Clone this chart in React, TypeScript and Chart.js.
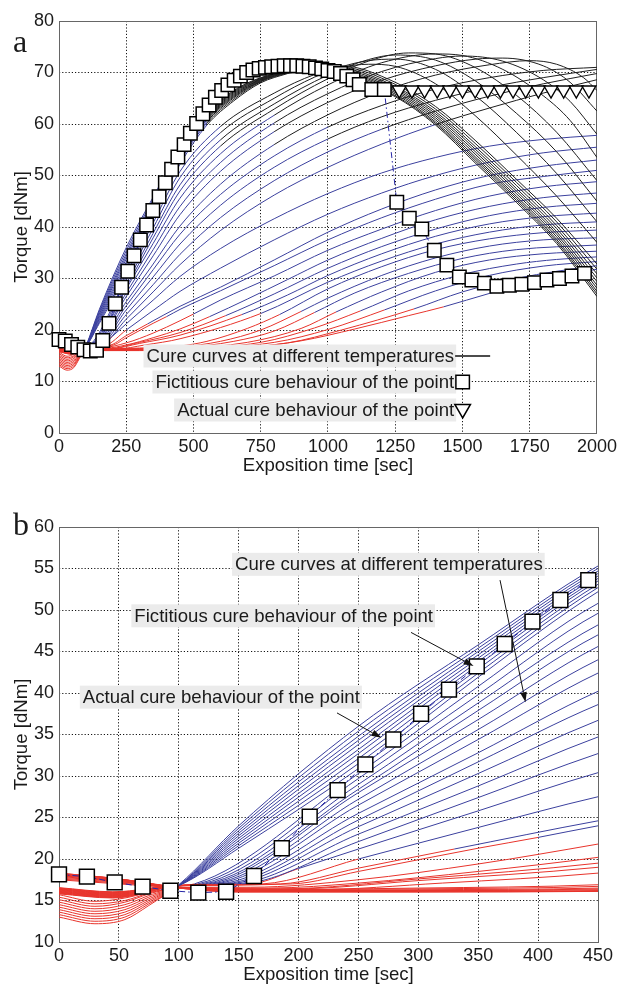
import React, { useEffect, useRef } from 'react';
import { Chart, registerables } from 'chart.js';

Chart.register(...registerables);

type Pt = [number, number];

// Cure curves (exposition time [s], torque [dNm]), hottest first.
const hotCurves: Pt[][] = [
  [[0, 13.0], [30, 12.2], [55, 12.7], [75, 14.4], [100, 16.9], [150, 24.0], [250, 36.0], [350, 45.8], [450, 55.3], [550, 62.0], [650, 66.5], [750, 69.0], [850, 70.2], [950, 70.4], [1050, 69.5], [1250, 65.3], [1400, 59.8], [1550, 52.3], [1700, 44.8], [1850, 36.8], [2000, 26.5]],
  [[0, 13.3], [30, 12.5], [55, 13.0], [75, 14.6], [100, 16.8], [150, 23.7], [250, 35.4], [350, 45.4], [450, 55.0], [550, 61.8], [650, 66.3], [750, 68.9], [850, 70.2], [950, 70.5], [1050, 69.7], [1250, 65.5], [1400, 60.1], [1550, 52.7], [1700, 45.2], [1850, 37.2], [2000, 27.0]],
  [[0, 13.6], [30, 12.8], [55, 13.3], [75, 14.8], [100, 16.8], [150, 23.4], [250, 34.8], [350, 45.0], [450, 54.7], [550, 61.6], [650, 66.1], [750, 68.8], [850, 70.2], [950, 70.6], [1050, 69.9], [1250, 65.8], [1400, 60.4], [1550, 53.1], [1700, 45.6], [1850, 37.6], [2000, 27.5]],
  [[0, 13.9], [30, 13.1], [55, 13.6], [75, 15.0], [100, 16.8], [150, 23.1], [250, 34.3], [350, 44.6], [450, 54.4], [550, 61.4], [650, 65.9], [750, 68.7], [850, 70.2], [950, 70.7], [1050, 70.1], [1250, 66.1], [1400, 60.8], [1550, 53.5], [1700, 46.0], [1850, 38.1], [2000, 28.1]],
  [[0, 14.2], [30, 13.4], [55, 13.9], [75, 15.2], [100, 16.8], [150, 22.8], [250, 33.8], [350, 44.2], [450, 54.1], [550, 61.2], [650, 65.7], [750, 68.6], [850, 70.1], [950, 70.8], [1050, 70.3], [1250, 66.4], [1400, 61.2], [1550, 54.0], [1700, 46.5], [1850, 38.6], [2000, 28.7]],
  [[0, 14.5], [30, 13.7], [55, 14.2], [75, 15.4], [100, 16.8], [150, 22.5], [250, 33.2], [350, 43.8], [450, 53.8], [550, 61.0], [650, 65.5], [750, 68.5], [850, 70.1], [950, 70.9], [1050, 70.5], [1250, 66.7], [1400, 61.6], [1550, 54.5], [1700, 47.0], [1850, 39.1], [2000, 29.4]],
  [[0, 14.8], [30, 14.0], [55, 14.5], [75, 15.6], [100, 16.8], [150, 22.2], [250, 32.7], [350, 43.4], [450, 53.5], [550, 60.8], [650, 65.3], [750, 68.4], [850, 70.0], [950, 71.0], [1050, 70.7], [1250, 67.0], [1400, 62.0], [1550, 55.0], [1700, 47.5], [1850, 39.7], [2000, 30.1]],
  [[0, 15.1], [30, 14.3], [55, 14.8], [75, 15.8], [100, 16.8], [150, 21.9], [250, 32.1], [350, 42.9], [450, 53.1], [550, 60.5], [650, 65.1], [750, 68.3], [850, 70.0], [950, 71.1], [1050, 70.9], [1250, 67.3], [1400, 62.4], [1550, 55.5], [1700, 48.1], [1850, 40.3], [2000, 30.9]],
  [[0, 15.4], [30, 14.6], [55, 15.0], [75, 15.9], [100, 16.8], [150, 21.6], [250, 31.5], [350, 42.4], [450, 52.7], [550, 60.2], [650, 64.8], [750, 68.2], [850, 69.9], [950, 71.2], [1050, 71.1], [1250, 67.7], [1400, 62.9], [1550, 56.1], [1700, 48.7], [1850, 41.0], [2000, 31.8]],
  [[0, 15.7], [30, 14.9], [55, 15.3], [75, 16.0], [100, 16.8], [150, 21.3], [250, 30.9], [350, 41.9], [450, 52.2], [550, 59.8], [650, 64.5], [750, 68.0], [850, 69.8], [950, 71.3], [1050, 71.3], [1250, 68.1], [1400, 63.4], [1550, 56.7], [1700, 49.3], [1850, 41.7], [2000, 32.8]],
];
const hotScorch = [100, 100, 100, 100, 100, 100, 100, 100, 100, 100];

const midCurves: Pt[][] = [
  [[0, 15.8], [45, 15.3], [100, 16.8], [113, 17.0], [250, 30.3], [350, 40.8], [450, 50.8], [600, 59.5], [800, 66.0], [950, 69.6], [1050, 71.0], [1150, 71.6], [1250, 71.2], [1400, 67.8], [1550, 61.5], [1700, 54.0], [1850, 46.0], [2000, 37.0]],
  [[0, 15.85], [45, 15.35], [100, 16.8], [116, 17.0], [250, 29.7], [350, 39.8], [450, 49.6], [600, 58.3], [800, 65.0], [950, 69.1], [1050, 71.1], [1150, 72.3], [1250, 72.6], [1400, 70.6], [1550, 65.4], [1700, 58.4], [1850, 50.4], [2000, 41.0]],
  [[0, 15.9], [45, 15.4], [100, 16.8], [119, 17.0], [250, 29.0], [350, 38.8], [450, 48.2], [600, 56.9], [800, 63.9], [1000, 69.5], [1150, 72.5], [1250, 73.4], [1400, 72.4], [1550, 68.3], [1700, 62.1], [1850, 54.6], [2000, 45.0]],
  [[0, 15.95], [45, 15.45], [100, 16.8], [122, 17.0], [250, 28.4], [350, 37.9], [450, 47.0], [600, 55.7], [800, 62.9], [1000, 68.8], [1150, 72.2], [1300, 73.8], [1400, 73.6], [1550, 70.9], [1700, 65.6], [1850, 58.4], [2000, 49.0]],
  [[0, 16.0], [45, 15.5], [100, 16.8], [125, 17.0], [250, 28.0], [350, 36.8], [450, 45.6], [600, 54.2], [800, 61.7], [1000, 67.6], [1200, 71.9], [1400, 73.6], [1500, 73.3], [1650, 70.6], [1800, 65.5], [1900, 60.7], [2000, 53.5]],
  [[0, 16.05], [45, 15.55], [100, 16.8], [128, 17.0], [250, 27.2], [350, 35.6], [450, 44.0], [600, 52.5], [800, 60.2], [1000, 65.9], [1200, 70.2], [1400, 72.7], [1500, 73.2], [1650, 72.2], [1800, 68.6], [1900, 64.4], [2000, 58.0]],
  [[0, 16.1], [45, 15.6], [100, 16.8], [131, 17.0], [250, 26.5], [350, 34.4], [450, 42.4], [600, 50.8], [800, 58.5], [1000, 64.2], [1200, 68.5], [1400, 71.3], [1550, 72.6], [1650, 72.8], [1800, 71.3], [1900, 68.1], [2000, 62.5]],
  [[0, 16.15], [45, 15.65], [100, 16.8], [135, 17.0], [250, 25.5], [350, 32.8], [450, 40.2], [600, 48.3], [800, 56.0], [1000, 61.8], [1200, 66.3], [1400, 69.5], [1600, 71.5], [1750, 72.3], [1850, 71.6], [1950, 69.0], [2000, 66.5]],
  [[0, 16.2], [45, 15.7], [100, 16.8], [139, 17.0], [250, 24.7], [350, 31.7], [450, 38.6], [600, 46.3], [800, 53.8], [1000, 59.4], [1200, 63.6], [1400, 66.8], [1600, 69.0], [1800, 70.4], [2000, 71.0]],
  [[0, 16.25], [45, 15.75], [100, 16.8], [143, 17.0], [250, 23.9], [350, 30.3], [450, 36.7], [600, 44.2], [800, 51.6], [1000, 57.1], [1200, 61.4], [1400, 64.6], [1600, 67.1], [1800, 69.0], [2000, 70.6]],
  [[0, 16.3], [45, 15.8], [100, 16.8], [148, 17.0], [250, 23.0], [350, 28.8], [450, 34.7], [600, 41.8], [800, 49.0], [1000, 54.6], [1200, 59.0], [1400, 62.5], [1600, 65.4], [1800, 67.8], [2000, 69.8]],
  [[0, 16.35], [45, 15.85], [100, 16.8], [153, 17.0], [250, 22.1], [350, 27.4], [450, 32.7], [600, 39.3], [800, 46.2], [1000, 51.6], [1200, 56.1], [1400, 59.9], [1600, 63.1], [1800, 66.0], [2000, 68.6]],
  [[0, 16.4], [45, 15.9], [100, 16.8], [160, 17.0], [200, 18.85], [250, 21.2], [350, 25.8], [450, 30.4], [600, 35.8], [800, 41.6], [1000, 46.5], [1200, 50.5], [1400, 53.5], [1600, 55.7], [1800, 57.0], [2000, 57.8]],
  [[0, 16.45], [45, 15.95], [100, 16.8], [170, 17.0], [250, 20.0], [350, 23.8], [450, 27.5], [600, 32.0], [800, 37.5], [1000, 42.5], [1200, 46.6], [1400, 50.0], [1600, 52.6], [1800, 54.4], [2000, 55.5]],
  [[0, 16.5], [45, 16.0], [100, 16.8], [185, 17.0], [250, 18.9], [330, 21.2], [450, 24.6], [600, 28.3], [800, 33.6], [1000, 39.0], [1200, 43.5], [1400, 47.2], [1600, 50.0], [1800, 51.8], [2000, 53.0]],
  [[0, 16.55], [45, 16.05], [100, 16.8], [195, 17.0], [250, 18.5], [350, 21.3], [400, 22.6], [450, 24.0], [600, 27.6], [800, 32.5], [1000, 37.5], [1200, 41.8], [1400, 45.4], [1600, 48.3], [1800, 49.8], [2000, 51.0]],
];
const midScorch = [113, 116, 119, 122, 125, 128, 131, 135, 139, 143, 148, 153, 200, 250, 330, 400];

const slowCurves: Pt[][] = [
  [[0, 17.5], [50, 17.0], [100, 16.6], [160, 16.6], [250, 17.5], [350, 19.4], [450, 21.8], [500, 23.1], [600, 25.8], [800, 30.5], [1000, 35.5], [1200, 39.6], [1400, 43.2], [1600, 46.0], [1800, 47.8], [2000, 48.8]],
  [[0, 17.6], [50, 17.1], [100, 16.6], [175, 16.5], [250, 17.1], [350, 18.5], [450, 20.2], [560, 22.6], [700, 26.0], [850, 29.8], [1000, 33.6], [1200, 37.8], [1400, 41.4], [1600, 44.0], [1800, 45.7], [2000, 46.6]],
  [[0, 17.7], [50, 17.2], [100, 16.6], [185, 16.4], [300, 17.6], [450, 19.5], [620, 22.8], [800, 27.0], [1000, 32.0], [1200, 36.2], [1400, 39.6], [1600, 42.2], [1800, 43.8], [2000, 44.6]],
  [[0, 17.8], [50, 17.3], [100, 16.6], [195, 16.4], [300, 17.4], [450, 19.0], [680, 23.0], [850, 26.8], [1000, 30.6], [1200, 34.8], [1400, 38.2], [1600, 40.6], [1800, 42.0], [2000, 42.7]],
  [[0, 17.9], [50, 17.3], [100, 16.5], [210, 16.3], [320, 17.1], [450, 18.3], [750, 23.2], [1000, 29.3], [1200, 33.4], [1400, 36.7], [1600, 39.0], [1800, 40.4], [2000, 41.0]],
];
const slowScorch = [500, 560, 620, 680, 750];

const coldCurves: Pt[][] = [
  [[0, 18.0], [50, 17.4], [100, 16.6], [150, 16.3], [300, 16.5], [450, 16.9], [550, 17.8], [700, 20.3], [820, 23.0], [1000, 28.0], [1200, 32.3], [1400, 35.6], [1600, 37.7], [1800, 38.9], [2000, 39.4]],
  [[0, 18.0], [50, 17.4], [100, 16.6], [150, 16.3], [300, 16.4], [450, 16.7], [600, 17.8], [750, 20.0], [900, 23.6], [1000, 26.2], [1200, 30.6], [1400, 34.0], [1600, 36.3], [1800, 37.5], [2000, 37.9]],
  [[0, 18.1], [50, 17.5], [100, 16.6], [150, 16.2], [300, 16.3], [450, 16.5], [650, 17.8], [800, 19.8], [950, 23.4], [1100, 27.2], [1300, 31.0], [1500, 33.9], [1700, 35.6], [2000, 36.5]],
  [[0, 18.1], [50, 17.5], [100, 16.6], [150, 16.2], [300, 16.2], [450, 16.4], [700, 17.6], [900, 20.3], [1030, 23.5], [1200, 27.4], [1400, 31.2], [1600, 33.6], [1800, 34.8], [2000, 35.3]],
  [[0, 18.2], [50, 17.6], [100, 16.6], [150, 16.2], [300, 16.2], [450, 16.3], [750, 17.6], [950, 20.4], [1120, 23.7], [1300, 27.6], [1500, 30.8], [1700, 32.8], [1850, 33.7], [2000, 34.2]],
  [[0, 18.2], [50, 17.6], [100, 16.5], [150, 16.1], [300, 16.1], [450, 16.2], [800, 17.6], [1000, 20.1], [1210, 23.9], [1400, 27.6], [1600, 30.6], [1800, 32.4], [2000, 33.3]],
  [[0, 18.3], [50, 17.6], [100, 16.5], [150, 16.1], [300, 16.1], [450, 16.1], [850, 17.5], [1050, 20.0], [1320, 24.1], [1500, 27.4], [1700, 30.0], [1850, 31.4], [2000, 32.5]],
  [[0, 18.3], [50, 17.6], [100, 16.5], [150, 16.0], [300, 16.0], [450, 16.1], [700, 16.6], [900, 17.9], [1100, 20.2], [1300, 22.8], [1430, 24.5], [1600, 27.1], [1800, 29.8], [2000, 31.8]],
];
const coldScorch = [820, 900, 950, 1030, 1120, 1210, 1320, 1430];

// Fictitious cure behaviour of the point (squares)
const squareTime = [
  0, 23.3, 46.5, 69.8, 93, 116.3, 139.5, 162.8, 186, 209.3, 232.6, 255.8, 279.1, 302.3, 325.6, 348.8, 372.1, 395.3, 418.6, 441.9,
  465.1, 488.4, 511.6, 534.9, 558.1, 581.4, 604.7, 627.9, 651.2, 674.4, 697.7, 720.9, 744.2, 767.4, 790.7, 814, 837.2, 860.5,
  883.7, 907, 930.2, 953.5, 976.7, 1000, 1023.3, 1046.5, 1069.8, 1093, 1116.3, 1162.8, 1209.3,
  1255.8, 1302.3, 1348.8, 1395.3, 1441.9, 1488.4, 1534.9, 1581.4, 1627.9, 1674.4, 1720.9, 1767.4, 1814, 1860.5, 1907, 1953.5,
];
const squareTorque = [
  18.15, 17.87, 17.19, 16.67, 16.18, 15.94, 16.06, 17.95, 21.29, 25.1, 28.3, 31.4, 34.4, 37.5, 40.4, 43.2, 45.9, 48.6, 51.2, 53.6,
  56.0, 58.2, 60.1, 62.0, 63.7, 65.2, 66.5, 67.6, 68.5, 69.3, 70.0, 70.5, 70.8, 71.0, 71.1, 71.2, 71.3, 71.3,
  71.3, 71.2, 71.1, 70.9, 70.7, 70.4, 70.2, 69.8, 69.3, 68.6, 67.7, 66.7, 66.7,
  44.8, 41.7, 39.6, 35.5, 32.6, 30.3, 29.7, 29.1, 28.5, 28.7, 28.9, 29.2, 29.7, 30.0, 30.5, 31.0,
];

// Actual cure behaviour of the point (triangles)
const triangleTime = [1265, 1312, 1359, 1406, 1453, 1500, 1547, 1594, 1641, 1688, 1735, 1782, 1829, 1876, 1923, 1970];
const triangleTorque = [66.6, 66.6, 66.6, 66.6, 66.6, 66.6, 66.6, 66.6, 66.6, 66.6, 66.6, 66.6, 66.6, 66.6, 66.6, 66.6];

// Axis ticks
const timeTicksA = [0, 250, 500, 750, 1000, 1250, 1500, 1750, 2000];
const torqueTicksA = [0, 10, 20, 30, 40, 50, 60, 70, 80];
const timeTicksB = [0, 50, 100, 150, 200, 250, 300, 350, 400, 450];
const torqueTicksB = [10, 15, 20, 25, 30, 35, 40, 45, 50, 55, 60];

const FONT = '"Liberation Sans", Arial, Helvetica, sans-serif';
const SERIF = '"Liberation Serif", "Times New Roman", serif';
const RED = '#e8342c';
const BLUE = '#3b409e';
const BLACK = '#1e1e1e';
const PATH_BLUE = '#2626a6';
const TEXT = '#1a1a1a';
const GRID = '#161616';
const LABEL_BG = '#ebebeb';
const CURED_TORQUE = 58.5;
const NOTE_SIZE = 18.6;

const families = [
  { curves: hotCurves, scorch: hotScorch },
  { curves: midCurves, scorch: midScorch },
  { curves: slowCurves, scorch: slowScorch },
  { curves: coldCurves, scorch: coldScorch },
];

function curveDataset(pts: Pt[], scorch: number) {
  const firstCured = pts.find((p) => p[1] >= CURED_TORQUE);
  const tCured = firstCured ? firstCured[0] : Infinity;
  return {
    data: pts.map(([x, y]) => ({ x, y })),
    borderColor: BLUE,
    borderWidth: 1,
    pointRadius: 0,
    pointHitRadius: 0,
    fill: false,
    cubicInterpolationMode: 'monotone',
    segment: {
      borderColor: (c: any) => {
        const x0 = c.p0.parsed.x;
        const x1 = c.p1.parsed.x;
        const y0 = c.p0.parsed.y;
        const y1 = c.p1.parsed.y;
        if (x1 <= scorch + 1e-6) return RED;
        if (x0 >= tCured) return BLACK;
        if (x1 >= tCured && y1 - CURED_TORQUE >= CURED_TORQUE - y0) return BLACK;
        return BLUE;
      },
    },
  };
}

function labelBox(ctx: CanvasRenderingContext2D, text: string, x: number, y: number, align: 'left' | 'right') {
  ctx.font = `${NOTE_SIZE}px ${FONT}`;
  const w = ctx.measureText(text).width;
  const left = align === 'left' ? x : x - w;
  ctx.fillStyle = LABEL_BG;
  ctx.fillRect(left - 3, y - 11.5, w + 5, 23);
  ctx.fillStyle = TEXT;
  ctx.textAlign = 'left';
  ctx.textBaseline = 'middle';
  ctx.fillText(text, left, y + 1);
  return w;
}

function arrow(ctx: CanvasRenderingContext2D, x0: number, y0: number, x1: number, y1: number) {
  const a = Math.atan2(y1 - y0, x1 - x0);
  const len = 10;
  const half = 3.3;
  const bx = x1 - len * Math.cos(a);
  const by = y1 - len * Math.sin(a);
  ctx.strokeStyle = '#111';
  ctx.fillStyle = '#111';
  ctx.lineWidth = 1;
  ctx.beginPath();
  ctx.moveTo(x0, y0);
  ctx.lineTo(bx, by);
  ctx.stroke();
  ctx.beginPath();
  ctx.moveTo(x1, y1);
  ctx.lineTo(bx + half * Math.sin(a), by - half * Math.cos(a));
  ctx.lineTo(bx - half * Math.sin(a), by + half * Math.cos(a));
  ctx.closePath();
  ctx.fill();
}

function square(ctx: CanvasRenderingContext2D, cx: number, cy: number, side: number) {
  ctx.fillStyle = '#fff';
  ctx.strokeStyle = '#000';
  ctx.lineWidth = 1.5;
  ctx.fillRect(cx - side / 2, cy - side / 2, side, side);
  ctx.strokeRect(cx - side / 2, cy - side / 2, side, side);
}

function downTriangle(ctx: CanvasRenderingContext2D, cx: number, cy: number, r: number) {
  ctx.fillStyle = '#fff';
  ctx.strokeStyle = '#000';
  ctx.lineWidth = 1.5;
  ctx.beginPath();
  ctx.moveTo(cx, cy + r);
  ctx.lineTo(cx - r * 0.866, cy - r / 2);
  ctx.lineTo(cx + r * 0.866, cy - r / 2);
  ctx.closePath();
  ctx.fill();
  ctx.stroke();
}

function drawLegendA(chart: any) {
  const { ctx, scales } = chart;
  const x = scales.x;
  const y = scales.y;
  const right = x.getPixelForValue(1469);
  const y1 = y.getPixelForValue(14.95);
  const y2 = y.getPixelForValue(9.9);
  const y3 = y.getPixelForValue(4.47);
  labelBox(ctx, 'Cure curves at different temperatures', right, y1, 'right');
  ctx.strokeStyle = '#111';
  ctx.lineWidth = 1.5;
  ctx.beginPath();
  ctx.moveTo(right + 1, y1);
  ctx.lineTo(right + 36, y1);
  ctx.stroke();
  labelBox(ctx, 'Fictitious cure behaviour of the point', right, y2, 'right');
  square(ctx, right + 8.5, y2, 13.5);
  labelBox(ctx, 'Actual cure behaviour of the point', right, y3, 'right');
  downTriangle(ctx, right + 8.5, y3 - 1, 9);
}

function drawNotesB(chart: any) {
  const { ctx, scales } = chart;
  const px = (t: number) => scales.x.getPixelForValue(t);
  const py = (v: number) => scales.y.getPixelForValue(v);
  labelBox(ctx, 'Cure curves at different temperatures', px(147), py(55.5), 'left');
  labelBox(ctx, 'Fictitious cure behaviour of the point', px(62.9), py(49.3), 'left');
  labelBox(ctx, 'Actual cure behaviour of the point', px(19.9), py(39.5), 'left');
  arrow(ctx, px(368.2), py(53.6), px(389.5), py(38.9));
  arrow(ctx, px(293.9), py(47.3), px(346.1), py(43.25));
  arrow(ctx, px(232.1), py(37.6), px(269.2), py(34.6));
}

interface PanelSpec {
  height: number;
  top: number;
  axisH: number;
  xMax: number;
  yMin: number;
  yMax: number;
  xTicks: number[];
  yTicks: number[];
  squareR: number;
  withTriangles: boolean;
  xTitlePad: number;
  letter: string;
  letterY: number;
  notes: (chart: any) => void;
}

const panelA: PanelSpec = {
  height: 480,
  top: 21,
  axisH: 47,
  xMax: 2000,
  yMin: 0,
  yMax: 80,
  xTicks: timeTicksA,
  yTicks: torqueTicksA,
  squareR: 9.5,
  withTriangles: true,
  xTitlePad: 2.8,
  letter: 'a',
  letterY: 52,
  notes: drawLegendA,
};

const panelB: PanelSpec = {
  height: 504,
  top: 47,
  axisH: 42,
  xMax: 450,
  yMin: 10,
  yMax: 60,
  xTicks: timeTicksB,
  yTicks: torqueTicksB,
  squareR: 10.5,
  withTriangles: false,
  xTitlePad: -2.2,
  letter: 'b',
  letterY: 55,
  notes: drawNotesB,
};

function makeConfig(spec: PanelSpec): any {
  const datasets: any[] = [];
  families.forEach((fam) => {
    fam.curves.forEach((pts, i) => datasets.push(curveDataset(pts, fam.scorch[i])));
  });
  const sq = squareTime
    .map((t, i) => ({ x: t, y: squareTorque[i] }))
    .filter((p) => p.x <= spec.xMax + 1);
  datasets.push({
    data: sq,
    borderColor: PATH_BLUE,
    borderWidth: 1,
    borderDash: [6, 3, 1.5, 3],
    pointStyle: 'rect',
    pointRadius: spec.squareR,
    pointBackgroundColor: '#ffffff',
    pointBorderColor: '#000000',
    pointBorderWidth: 1.5,
    pointHitRadius: 0,
    clip: false,
    order: -2,
  });
  if (spec.withTriangles) {
    datasets.push({
      data: triangleTime.map((t, i) => ({ x: t, y: triangleTorque[i] })),
      showLine: false,
      pointStyle: 'triangle',
      pointRotation: 180,
      pointRadius: 8,
      pointBackgroundColor: '#ffffff',
      pointBorderColor: '#000000',
      pointBorderWidth: 1.4,
      pointHitRadius: 0,
      clip: false,
      order: -3,
    });
  }

  const tickFont = { family: FONT, size: 18 };
  const titleFont = { family: FONT, size: NOTE_SIZE };

  const decor = {
    id: 'decor',
    beforeDatasetsDraw(chart: any) {
      const { ctx, chartArea: a } = chart;
      ctx.save();
      ctx.strokeStyle = '#666';
      ctx.lineWidth = 1;
      const l = Math.round(a.left - 0.5) + 0.5;
      const r = Math.round(a.right - 0.5) + 0.5;
      const t = Math.round(a.top - 0.5) + 0.5;
      const b = Math.round(a.bottom - 0.5) + 0.5;
      ctx.strokeRect(l, t, r - l, b - t);
      ctx.restore();
    },
    afterDatasetsDraw(chart: any) {
      const { ctx } = chart;
      ctx.save();
      spec.notes(chart);
      ctx.font = `32px ${SERIF}`;
      ctx.fillStyle = TEXT;
      ctx.textAlign = 'left';
      ctx.textBaseline = 'alphabetic';
      ctx.fillText(spec.letter, 13, spec.letterY);
      ctx.restore();
    },
  };

  return {
    type: 'line',
    data: { datasets },
    options: {
      animation: false,
      responsive: false,
      maintainAspectRatio: false,
      events: [],
      layout: { padding: { left: 0, right: 22, top: spec.top, bottom: 0 } },
      plugins: { legend: { display: false }, tooltip: { enabled: false } },
      scales: {
        x: {
          type: 'linear',
          min: 0,
          max: spec.xMax,
          afterBuildTicks: (s: any) => {
            s.ticks = spec.xTicks.map((value) => ({ value }));
          },
          afterFit: (s: any) => {
            s.height = spec.axisH;
          },
          ticks: {
            font: tickFont,
            color: TEXT,
            padding: 3,
            maxRotation: 0,
            autoSkip: false,
            callback: (v: any) => String(v),
          },
          grid: { color: GRID, lineWidth: 1, drawTicks: false },
          border: { display: false, dash: [1.2, 2] },
          title: {
            display: true,
            text: 'Exposition time [sec]',
            font: titleFont,
            color: TEXT,
            padding: { top: 0, bottom: spec.xTitlePad },
          },
        },
        y: {
          type: 'linear',
          min: spec.yMin,
          max: spec.yMax,
          afterBuildTicks: (s: any) => {
            s.ticks = spec.yTicks.map((value) => ({ value }));
          },
          afterFit: (s: any) => {
            s.width = 59;
          },
          ticks: {
            font: tickFont,
            color: TEXT,
            padding: 5,
            autoSkip: false,
            callback: (v: any) => String(v),
          },
          grid: { color: GRID, lineWidth: 1, drawTicks: false },
          border: { display: false, dash: [1.2, 2] },
          title: {
            display: true,
            text: 'Torque [dNm]',
            font: titleFont,
            color: TEXT,
            padding: { top: 10.8, bottom: 0 },
          },
        },
      },
    },
    plugins: [decor],
  };
}

function Panel({ spec }: { spec: PanelSpec }) {
  const ref = useRef<HTMLCanvasElement>(null);
  useEffect(() => {
    if (!ref.current) return;
    const chart = new Chart(ref.current, makeConfig(spec));
    return () => chart.destroy();
  }, [spec]);
  return (
    <canvas
      ref={ref}
      width={620}
      height={spec.height}
      style={{ display: 'block', width: 620, height: spec.height }}
    />
  );
}

export default function App() {
  return (
    <div
      style={{
        position: 'fixed',
        left: 0,
        top: 0,
        width: 620,
        height: 984,
        overflow: 'hidden',
        background: '#ffffff',
      }}
    >
      <Panel spec={panelA} />
      <Panel spec={panelB} />
    </div>
  );
}
